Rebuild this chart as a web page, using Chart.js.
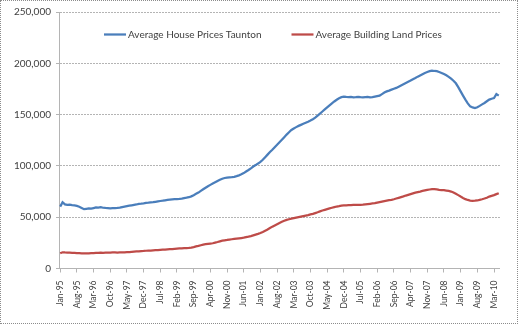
<!DOCTYPE html>
<html>
<head>
<meta charset="utf-8">
<script src="https://cdn.jsdelivr.net/npm/chart.js@4/dist/chart.umd.min.js"></script>
<style>
  html, body { margin: 0; padding: 0; background: #ffffff; }
  #frame { width: 518px; height: 324px; box-sizing: border-box; border: 1px dotted #8c8c8c; }
  canvas { display: block; }
</style>
</head>
<body>
<div id="frame"><canvas id="chart" width="516" height="322"></canvas></div>
<script>
// Monthly series, Jan-95 to May-10 (values in pounds, thousands below)
const MONTH_NAMES = ['Jan','Feb','Mar','Apr','May','Jun','Jul','Aug','Sep','Oct','Nov','Dec'];
const FIRST_YEAR = 1995;
const MONTH_COUNT = 185;
const LABEL_EVERY = 7;

const houseLabel = 'Average House Prices Taunton';
const landLabel = 'Average Building Land Prices';

// Average house price, £ thousands
const housePrices = [
  60.3, 64.6, 62.5, 62.0, 62.2, 61.8, 61.5, 61.0, 60.2, 59.0,
  57.8, 58.2, 58.6, 58.3, 58.9, 59.5, 59.4, 59.8, 59.2, 59.0,
  58.9, 58.7, 58.8, 58.8, 59.0, 59.3, 59.8, 60.3, 60.8, 61.2,
  61.6, 62.0, 62.4, 63.0, 63.2, 63.5, 63.9, 64.1, 64.4, 64.6,
  65.0, 65.4, 65.8, 66.1, 66.5, 66.9, 67.1, 67.3, 67.5, 67.7,
  67.9, 68.2, 68.6, 69.0, 69.5, 70.3, 71.5, 72.8, 74.0, 75.6,
  77.2, 78.7, 80.2, 81.5, 82.8, 84.0, 85.2, 86.4, 87.5, 88.2,
  88.6, 88.8, 89.0, 89.3, 90.0, 90.8, 91.8, 93.0, 94.5, 96.0,
  97.6, 99.4, 100.8, 102.3, 104.0, 106.0, 108.5, 111.0, 113.5, 115.7,
  118.2, 120.6, 123.0, 125.5, 128.0, 130.5, 132.8, 135.0, 136.5, 137.8,
  139.0, 140.0, 141.0, 142.0, 143.0, 144.2, 145.5, 147.0, 149.0, 151.0,
  153.0, 155.0, 157.0, 159.0, 161.0, 162.8, 164.5, 166.0, 167.0, 167.5,
  167.2, 167.0, 167.2, 166.8, 167.0, 167.3, 167.0, 166.8, 167.0, 167.2,
  166.8, 167.0, 167.5, 168.0, 168.5, 170.0, 171.5, 172.6, 173.4, 174.3,
  175.2, 176.0, 177.2, 178.4, 179.6, 180.8, 182.0, 183.2, 184.5, 185.7,
  187.0, 188.2, 189.4, 190.6, 191.5, 192.3, 192.9, 192.5, 192.3, 191.5,
  190.6, 189.5, 188.3, 186.8, 185.0, 183.0, 180.5, 176.8, 172.6, 168.5,
  164.6, 161.0, 158.0, 157.0, 156.4, 157.2, 158.5, 160.0, 161.3, 163.0,
  164.6, 165.5, 166.2, 170.0, 168.5
];

// Average building land price, £ thousands
const landPrices = [
  14.8, 15.8, 15.6, 15.5, 15.4, 15.3, 15.2, 15.0, 14.9, 14.8,
  14.8, 14.7, 14.8, 14.9, 15.0, 15.2, 15.3, 15.4, 15.3, 15.4,
  15.4, 15.5, 15.6, 15.6, 15.5, 15.6, 15.7, 15.8, 15.9, 16.0,
  16.2, 16.4, 16.6, 16.8, 17.0, 17.1, 17.3, 17.4, 17.5, 17.7,
  17.9, 18.0, 18.2, 18.4, 18.5, 18.7, 18.9, 19.0, 19.2, 19.4,
  19.5, 19.6, 19.8, 19.9, 20.0, 20.4, 20.9, 21.5, 22.0, 22.7,
  23.3, 23.7, 24.0, 24.3, 24.6, 25.2, 25.8, 26.5, 27.2, 27.5,
  27.8, 28.2, 28.5, 28.8, 29.1, 29.4, 29.7, 30.0, 30.5, 31.0,
  31.6, 32.3, 33.0, 33.7, 34.6, 35.6, 36.8, 38.0, 39.4, 40.8,
  42.0, 43.2, 44.4, 45.5, 46.5, 47.4, 48.0, 48.6, 49.1, 49.6,
  50.1, 50.6, 51.1, 51.6, 52.1, 52.7, 53.2, 54.0, 54.8, 55.7,
  56.5, 57.2, 57.9, 58.6, 59.2, 59.8, 60.4, 60.8, 61.3, 61.5,
  61.6, 61.7, 61.8, 61.9, 62.0, 62.0, 62.0, 62.2, 62.5, 62.8,
  63.1, 63.4, 63.7, 64.2, 64.7, 65.2, 65.7, 66.2, 66.6, 66.9,
  67.5, 68.2, 68.9, 69.6, 70.3, 71.1, 71.8, 72.5, 73.2, 73.9,
  74.5, 75.0, 75.6, 76.1, 76.6, 77.0, 77.3, 77.3, 77.1, 76.7,
  76.5, 76.3, 76.0, 75.6, 75.0, 74.0, 72.8, 71.5, 70.1, 68.8,
  67.6, 66.8, 66.2, 66.0, 66.1, 66.3, 66.9, 67.5, 68.2, 69.0,
  70.1, 70.8, 71.5, 72.5, 73.4
];

// Y axis tick values
const yTicks = [0, 50000, 100000, 150000, 200000, 250000];

// Month categories, e.g. "Jan-95"
const months = [];
for (let i = 0; i < MONTH_COUNT; i++) {
  const y = FIRST_YEAR + Math.floor(i / 12);
  months.push(MONTH_NAMES[i % 12] + '-' + String(y % 100).padStart(2, '0'));
}

const TEXT = '#404040';
const GRID = '#b4b4b4';
const BLUE = '#4a7ebb';
const RED = '#be4b48';

// Legend drawn inside the top of the plot area
const insetLegend = {
  id: 'insetLegend',
  afterDraw(chart) {
    const { ctx, chartArea } = chart;
    ctx.save();
    ctx.font = '10px Lato';
    ctx.textBaseline = 'middle';
    let x = chartArea.left + 45;
    const y = chartArea.top + 22.5;
    chart.data.datasets.forEach(ds => {
      ctx.strokeStyle = ds.borderColor;
      ctx.lineWidth = 2.25;
      ctx.beginPath();
      ctx.moveTo(x, y);
      ctx.lineTo(x + 22, y);
      ctx.stroke();
      x += 24;
      ctx.fillStyle = TEXT;
      ctx.fillText(ds.label, x, y);
      x += ctx.measureText(ds.label).width + 30;
    });
    ctx.restore();
  }
};

new Chart(document.getElementById('chart'), {
  type: 'line',
  data: {
    labels: months,
    datasets: [
      {
        label: houseLabel,
        data: housePrices.map(v => v * 1000),
        borderColor: BLUE,
        backgroundColor: BLUE,
        borderWidth: 2.25,
        pointRadius: 0,
        tension: 0
      },
      {
        label: landLabel,
        data: landPrices.map(v => v * 1000),
        borderColor: RED,
        backgroundColor: RED,
        borderWidth: 2.25,
        pointRadius: 0,
        tension: 0
      }
    ]
  },
  options: {
    responsive: false,
    animation: false,
    devicePixelRatio: 1,
    layout: { padding: { top: 11, right: 12, left: 0, bottom: 0 } },
    plugins: {
      legend: { display: false },
      tooltip: { enabled: false }
    },
    scales: {
      x: {
        type: 'category',
        offset: true,
        afterFit(scale) { scale.height = 54.5; },
        ticks: {
          autoSkip: false,
          maxRotation: 90,
          minRotation: 90,
          padding: 8,
          color: TEXT,
          font: { family: 'Lato', size: 8.5 },
          callback(value, index) {
            return index % LABEL_EVERY === 0 ? this.getLabelForValue(value) : '';
          }
        },
        grid: {
          drawOnChartArea: false,
          drawTicks: true,
          tickLength: 4,
          tickColor: ctx => (ctx.index % LABEL_EVERY === 0 ? GRID : 'rgba(0,0,0,0)')
        },
        border: { display: true, color: GRID, width: 1 }
      },
      y: {
        min: 0,
        max: 250000,
        afterFit(scale) { scale.width = 58; },
        afterBuildTicks(scale) { scale.ticks = yTicks.map(v => ({ value: v })); },
        ticks: {
          padding: 5,
          color: TEXT,
          font: { family: 'Lato', size: 10 },
          callback: v => v.toLocaleString('en-GB')
        },
        grid: {
          color: GRID,
          lineWidth: 1,
          tickLength: 3,
          tickColor: GRID
        },
        border: { display: true, color: GRID, width: 1, dash: [2, 1] }
      }
    }
  },
  plugins: [insetLegend]
});
</script>
</body>
</html>
